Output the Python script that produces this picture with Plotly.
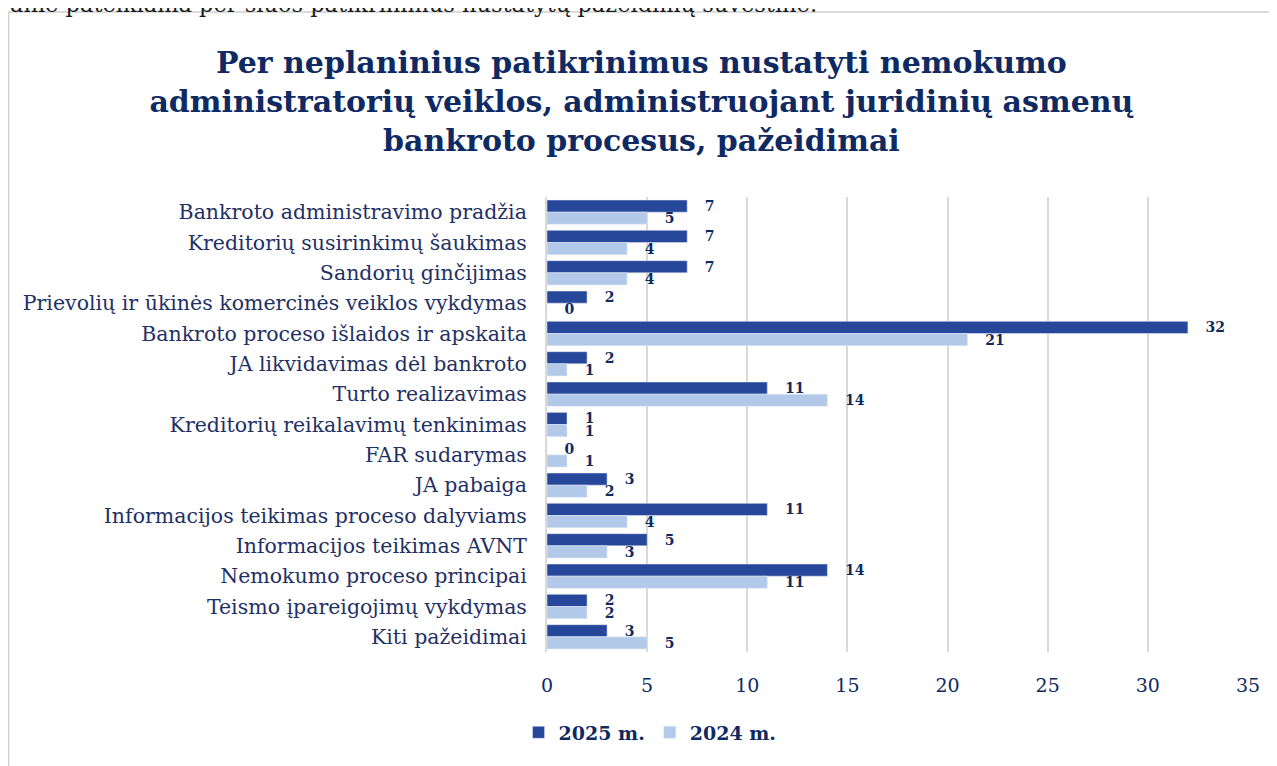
import plotly.graph_objects as go

categories = [
    'Bankroto administravimo pradžia',
    'Kreditorių susirinkimų šaukimas',
    'Sandorių ginčijimas',
    'Prievolių ir ūkinės komercinės veiklos vykdymas',
    'Bankroto proceso išlaidos ir apskaita',
    'JA likvidavimas dėl bankroto',
    'Turto realizavimas',
    'Kreditorių reikalavimų tenkinimas',
    'FAR sudarymas',
    'JA pabaiga',
    'Informacijos teikimas proceso dalyviams',
    'Informacijos teikimas AVNT',
    'Nemokumo proceso principai',
    'Teismo įpareigojimų vykdymas',
    'Kiti pažeidimai',
]
values_2025 = [7, 7, 7, 2, 32, 2, 11, 1, 0, 3, 11, 5, 14, 2, 3]
values_2024 = [5, 4, 4, 0, 21, 1, 14, 1, 1, 2, 4, 3, 11, 2, 5]

navy = '#0F2A63'
serif = 'DejaVu Serif, Liberation Serif, serif'
pad = '\u00a0\u00a0\u00a0'

fig = go.Figure()
fig.add_trace(go.Bar(
    y=categories, x=values_2025, orientation='h', name='2025 m.',
    marker=dict(color='#27479B'),
    texttemplate=pad + '%{x}', textposition='outside', cliponaxis=False,
    constraintext='none',
    textfont=dict(family=serif, size=14, color=navy, weight='bold'),
))
fig.add_trace(go.Bar(
    y=categories, x=values_2024, orientation='h', name='2024 m.',
    marker=dict(color='#B2C9EA'),
    texttemplate=pad + '%{x}', textposition='outside', cliponaxis=False,
    constraintext='none',
    textfont=dict(family=serif, size=14, color=navy, weight='bold'),
))

fig.update_layout(
    width=1277, height=766,
    margin=dict(l=539, r=37, t=189, b=122, autoexpand=False),
    paper_bgcolor='white', plot_bgcolor='white',
    barmode='group', bargap=0.2, bargroupgap=0,
    title=dict(
        text='Per neplaninius patikrinimus nustatyti nemokumo<br>'
             'administratorių veiklos, administruojant juridinių asmenų<br>'
             'bankroto procesus, pažeidimai',
        x=0.496, xanchor='center', y=0.9154, yanchor='top',
        font=dict(family=serif, size=30, color=navy, weight='bold'),
    ),
    xaxis=dict(
        range=[0, 35], dtick=5, showgrid=True, gridcolor='#D9D9D9', gridwidth=2,
        zeroline=False, ticks='', ticklabelstandoff=20, automargin=False,
        tickfont=dict(family=serif, size=19, color=navy),
    ),
    yaxis=dict(
        autorange='reversed', showgrid=False, ticks='', ticklabelstandoff=14,
        showline=True, linecolor='#D9D9D9', linewidth=2, automargin=False,
        tickfont=dict(family=serif, size=20.5, color='#1F3064'),
    ),
    legend=dict(
        orientation='h', x=0.147, xanchor='center', y=-0.135, yanchor='top',
        font=dict(family=serif, size=19, color=navy, weight='bold'),
        traceorder='normal',
    ),
    shapes=[dict(
        type='rect', xref='paper', yref='paper',
        x0=-0.768, x1=1.1, y0=-0.4, y1=1.4066,
        line=dict(color='#D0D0D0', width=1.5), layer='below',
    )],
    annotations=[dict(
        text='anie pateikiama per šiuos patikrinimus nustatytų pažeidimų suvestinė.',
        xref='paper', yref='paper', x=-0.769, y=1.424, xanchor='left', yanchor='middle',
        showarrow=False, font=dict(family=serif, size=22.5, color='#1A1A1A'),
    )],
)

fig.write_html('out.html')
